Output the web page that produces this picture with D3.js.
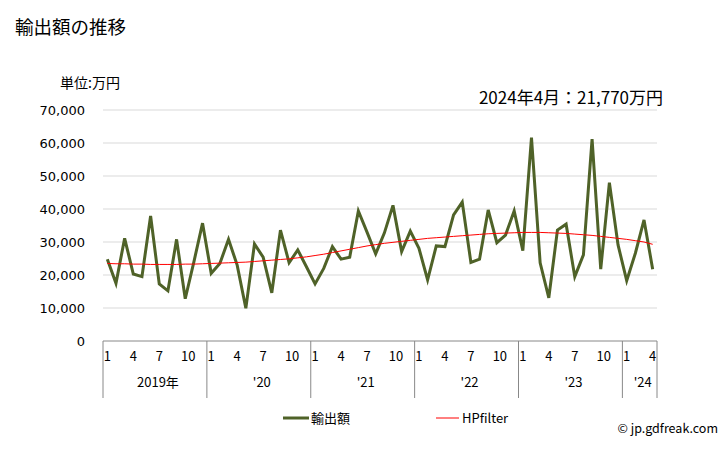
<!DOCTYPE html>
<html>
<head>
<meta charset="utf-8">
<script src="https://cdn.jsdelivr.net/npm/d3@7"></script>
<style>
  body { margin: 0; background: #fff; font-family: "Noto Sans CJK JP", "Noto Sans", sans-serif; }
</style>
</head>
<body>
<div id="chart"></div>
<script>
// chart size and plot area
const width = 728;
const height = 450;
const margin = {left: 103, right: 71, top: 110, bottom: 109};

// data: monthly values, Jan 2019 - Apr 2024 (万円)
const months = d3.range(64).map(i => ({year: 2019 + Math.floor(i / 12), month: i % 12 + 1}));
const exports = [
  24800, 17500, 31100, 20300, 19500, 37900, 17300, 15200, 30800, 12800, 24000, 35700,
  20500, 23500, 30800, 23000, 9900, 29400, 25400, 14600, 33600, 23700, 27600, 22500,
  17300, 22000, 28600, 24800, 25400, 39400, 33000, 26400, 32700, 41100, 27100, 33300,
  28100, 18500, 28800, 28600, 38200, 42100, 23800, 24800, 39700, 29800, 32100, 39400,
  27400, 61600, 23700, 13100, 33600, 35400, 19500, 26100, 61200, 21800, 48000, 29100,
  18300, 26600, 36700, 21770
];
const hpfilter = [
  23500, 23400, 23400, 23300, 23300, 23200, 23200, 23200, 23200, 23300, 23300, 23400,
  23500, 23600, 23700, 23800, 23900, 24100, 24300, 24500, 24700, 24900, 25200, 25500,
  25900, 26300, 26800, 27300, 27800, 28300, 28800, 29200, 29600, 29900, 30200, 30500,
  30800, 31100, 31300, 31500, 31700, 31900, 32100, 32300, 32500, 32600, 32700, 32800,
  32900, 32900, 32900, 32800, 32700, 32600, 32400, 32200, 32000, 31700, 31400, 31100,
  30800, 30400, 30000, 29300
];
const yTicks = [0, 10000, 20000, 30000, 40000, 50000, 60000, 70000];
const monthTicks = [1, 4, 7, 10];
const yearLabels = ["2019年", "'20", "'21", "'22", "'23", "'24"];

const svg = d3.select("#chart")
  .append("svg")
  .attr("width", width)
  .attr("height", height);

const xScale = d3.scaleBand()
  .domain(d3.range(months.length))
  .range([margin.left, width - margin.right]);

const yScale = d3.scaleLinear()
  .domain([0, 70000])
  .range([height - margin.bottom, margin.top]);

const x0 = margin.left, x1 = width - margin.right, yBase = height - margin.bottom;

// gridlines
svg.append("g")
  .selectAll("line")
  .data(yTicks.slice(1))
  .enter()
  .append("line")
    .attr("x1", x0).attr("x2", x1)
    .attr("y1", d => yScale(d)).attr("y2", d => yScale(d))
    .attr("stroke", "#d9d9d9");

// y axis labels
svg.append("g")
  .attr("transform", `translate(${x0 - 15},0)`)
  .call(d3.axisLeft(yScale).tickValues(yTicks).tickSize(0).tickFormat(d3.format(",")))
  .call(g => g.select(".domain").remove())
  .selectAll("text")
    .attr("font-size", "13px")
    .attr("font-family", "DejaVu Sans, sans-serif")
    .attr("fill", "#000");

// x axis line
svg.append("line")
  .attr("x1", x0).attr("x2", x1)
  .attr("y1", yBase).attr("y2", yBase)
  .attr("stroke", "#888");

// month tick labels
svg.append("g")
  .selectAll("text")
  .data(months.map((m, i) => ({...m, i})).filter(m => monthTicks.includes(m.month)))
  .enter()
  .append("text")
    .attr("x", d => xScale(d.i) + xScale.bandwidth() / 2 + (d.month === 10 ? 3 : 0))
    .attr("y", yBase + 20)
    .attr("text-anchor", "middle")
    .attr("font-size", "13px")
    .text(d => d.month);

// year separators and labels
const yearStarts = d3.range(yearLabels.length).map(k => k * 12);
const bounds = yearStarts.map(i => xScale(i)).concat([x1]);
svg.append("g")
  .selectAll("line")
  .data(bounds)
  .enter()
  .append("line")
    .attr("x1", d => d).attr("x2", d => d)
    .attr("y1", yBase).attr("y2", yBase + 57)
    .attr("stroke", "#888");

svg.append("g")
  .selectAll("text")
  .data(yearLabels)
  .enter()
  .append("text")
    .attr("x", (d, k) => (bounds[k] + bounds[k + 1]) / 2 + 3)
    .attr("y", yBase + 46)
    .attr("text-anchor", "middle")
    .attr("font-size", "13px")
    .text(d => d);

// lines
const lineGen = d3.line()
  .x((d, i) => xScale(i) + xScale.bandwidth() / 2)
  .y(d => yScale(d));

svg.append("path")
  .datum(exports)
  .attr("fill", "none")
  .attr("stroke", "#4f6228")
  .attr("stroke-width", 3)
  .attr("stroke-linejoin", "miter")
  .attr("d", lineGen);

svg.append("path")
  .datum(hpfilter)
  .attr("fill", "none")
  .attr("stroke", "#ff0000")
  .attr("stroke-width", 1)
  .attr("d", lineGen);

// titles
svg.append("text")
  .attr("x", 15).attr("y", 34)
  .attr("font-size", "18.5px")
  .text("輸出額の推移");

svg.append("text")
  .attr("x", 60).attr("y", 88)
  .attr("font-size", "14px")
  .text("単位:万円");

svg.append("text")
  .attr("x", 663).attr("y", 104)
  .attr("text-anchor", "end")
  .attr("font-size", "17px")
  .text("2024年4月：21,770万円");

// legend
svg.append("line")
  .attr("x1", 283).attr("x2", 309).attr("y1", 418).attr("y2", 418)
  .attr("stroke", "#4f6228").attr("stroke-width", 3);
svg.append("text")
  .attr("x", 311).attr("y", 423)
  .attr("font-size", "13px")
  .text("輸出額");
svg.append("line")
  .attr("x1", 436).attr("x2", 459).attr("y1", 418).attr("y2", 418)
  .attr("stroke", "#ff0000").attr("stroke-width", 1);
svg.append("text")
  .attr("x", 462).attr("y", 423)
  .attr("font-size", "13px")
  .text("HPfilter");

svg.append("text")
  .attr("x", 718).attr("y", 433)
  .attr("text-anchor", "end")
  .attr("font-size", "12.5px")
  .text("© jp.gdfreak.com");
</script>
</body>
</html>
